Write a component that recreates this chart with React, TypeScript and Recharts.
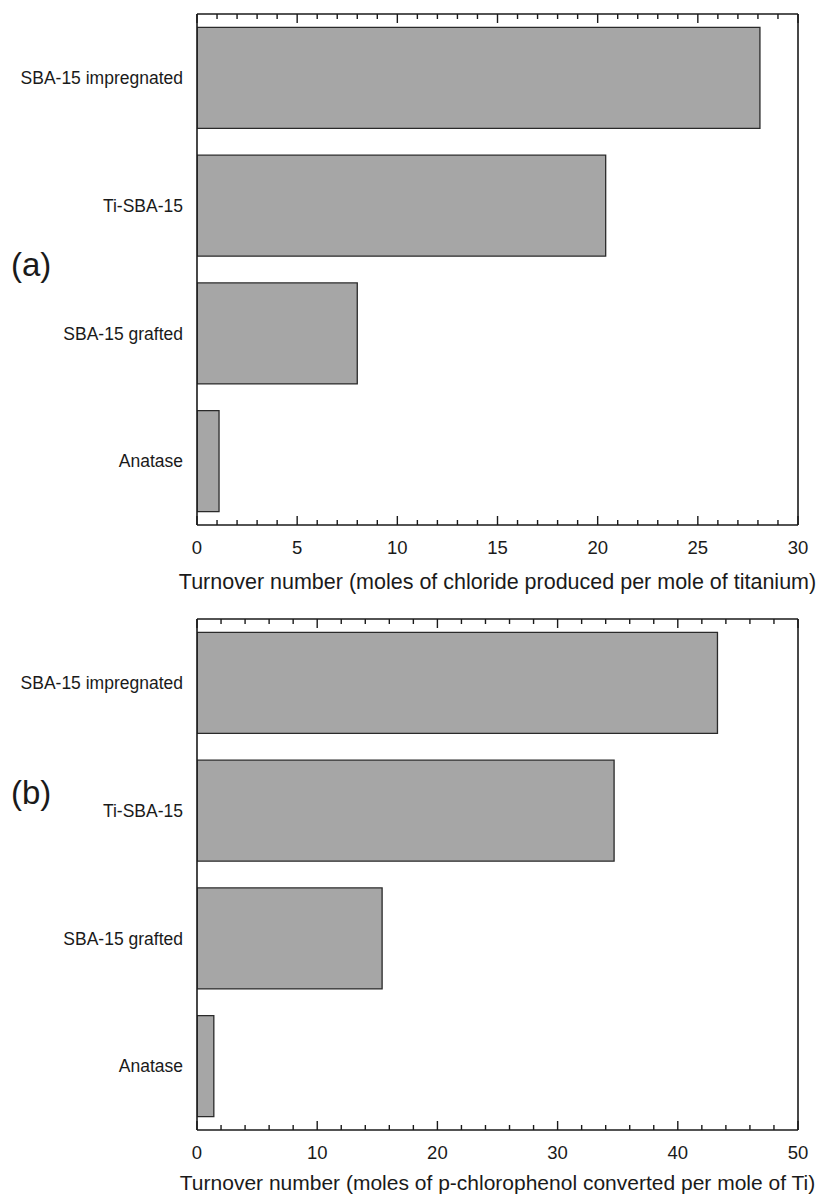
import { BarChart, Bar, XAxis, YAxis, ReferenceLine } from "recharts";

const catalysts = ["SBA-15 impregnated", "Ti-SBA-15", "SBA-15 grafted", "Anatase"];

// turnover numbers, chloride released per Ti
const chlorideTON = [28.1, 20.4, 8.0, 1.1];
// turnover numbers, p-chlorophenol converted per Ti
const chlorophenolTON = [43.3, 34.7, 15.4, 1.4];

const chlorideTicks = [0, 5, 10, 15, 20, 25, 30];
const chlorophenolTicks = [0, 10, 20, 30, 40, 50];

const FONT = "'Liberation Sans', Arial, Helvetica, sans-serif";
const INK = "#1a1a1a";

function withMinor(majors: number[], step: number) {
  const out: number[] = [];
  const last = majors[majors.length - 1];
  for (let v = majors[0]; v <= last + 1e-9; v += step) out.push(Math.round(v * 100) / 100);
  return out;
}

function BottomTick(props: any) {
  const { x, y, payload, majors } = props;
  const major = majors.includes(payload.value);
  const len = major ? 9 : 5;
  return (
    <g>
      <line x1={x} x2={x} y1={y} y2={y - len} stroke={INK} strokeWidth={1.4} />
      {major && (
        <text x={x} y={y + 29} textAnchor="middle" fontSize={18.5} fill={INK}>
          {payload.value}
        </text>
      )}
    </g>
  );
}

function AxisTitle(props: any) {
  const { viewBox, value, dy, size } = props;
  return (
    <text
      x={viewBox.x + viewBox.width / 2}
      y={viewBox.y + dy}
      textAnchor="middle"
      fontSize={size}
      fill={INK}
    >
      {value}
    </text>
  );
}

function Panel({
  values,
  majors,
  step,
  title,
  titleDy,
  titleSize,
}: {
  values: number[];
  majors: number[];
  step: number;
  title: string;
  titleDy: number;
  titleSize: number;
}) {
  const data = catalysts.map((name, i) => ({ name, value: values[i] }));
  const max = majors[majors.length - 1];
  const allTicks = withMinor(majors, step);
  return (
    <BarChart
      width={816}
      height={595}
      data={data}
      layout="vertical"
      margin={{ top: 13, right: 18, bottom: 0, left: 0 }}
      barCategoryGap="10.5%"
    >
      <XAxis
        type="number"
        domain={[0, max]}
        allowDataOverflow
        ticks={allTicks}
        interval={0}
        tickSize={0}
        tickMargin={0}
        tickLine={false}
        height={70}
        axisLine={{ stroke: INK, strokeWidth: 1.6 }}
        tick={<BottomTick majors={majors} />}
        label={<AxisTitle value={title} dy={titleDy} size={titleSize} />}
      />
      <XAxis
        xAxisId="top"
        orientation="top"
        type="number"
        domain={[0, max]}
        allowDataOverflow
        tick={false}
        tickLine={false}
        height={1}
        axisLine={{ stroke: INK, strokeWidth: 1.6 }}
      />
      <YAxis
        type="category"
        dataKey="name"
        width={197}
        tickLine={false}
        tickMargin={8}
        axisLine={{ stroke: INK, strokeWidth: 1.6 }}
        tick={{ fontSize: 17.5, fill: INK }}
      />
      <ReferenceLine x={max} stroke={INK} strokeWidth={1.6} ifOverflow="visible" />
      {/* inward ticks along the upper edge of the frame */}
      {allTicks.map((t) => (
        <ReferenceLine
          key={t}
          x={t}
          ifOverflow="visible"
          shape={(p: any) => {
            const len = majors.includes(t) ? 9 : 5;
            const top = Math.min(p.y1, p.y2);
            return <path d={`M${p.x1},${top}V${top + len}`} stroke={INK} strokeWidth={1.4} />;
          }}
        />
      ))}
      <Bar dataKey="value" fill="#a6a6a6" stroke="#2a2a2a" strokeWidth={1.3} isAnimationActive={false} />
    </BarChart>
  );
}

export default function App() {
  return (
    <div
      style={{
        position: "absolute",
        left: 0,
        top: 0,
        width: 816,
        height: 1194,
        background: "#fff",
        fontFamily: FONT,
        overflow: "hidden",
      }}
    >
      <div style={{ position: "absolute", left: 0, top: 0 }}>
        <Panel
          values={chlorideTON}
          majors={chlorideTicks}
          step={1}
          title="Turnover number (moles of chloride produced per mole of titanium)"
          titleDy={64}
          titleSize={21.5}
        />
      </div>
      <div style={{ position: "absolute", left: 0, top: 605 }}>
        <Panel
          values={chlorophenolTON}
          majors={chlorophenolTicks}
          step={2}
          title="Turnover number (moles of p-chlorophenol converted per mole of Ti)"
          titleDy={60}
          titleSize={21}
        />
      </div>

      <span style={{ position: "absolute", left: 11, top: 245, fontSize: 33, color: INK, lineHeight: "40px" }}>
        (a)
      </span>
      <span style={{ position: "absolute", left: 11, top: 773, fontSize: 33, color: INK, lineHeight: "40px" }}>
        (b)
      </span>
    </div>
  );
}
